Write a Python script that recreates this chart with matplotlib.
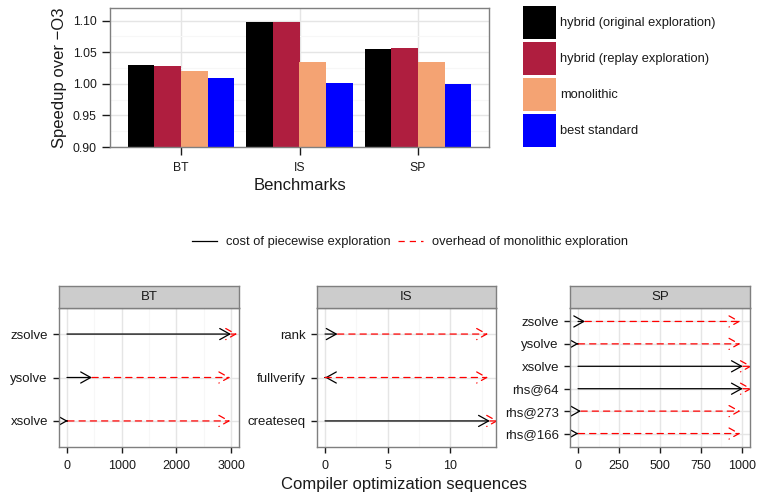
import matplotlib
matplotlib.use("Agg")
import matplotlib.pyplot as plt
from matplotlib.patches import Patch, FancyArrowPatch
from matplotlib.lines import Line2D
import numpy as np

plt.rcParams['font.family'] = ['Liberation Sans', 'DejaVu Sans']

# top chart data
benchmarks = ["BT", "IS", "SP"]
series_names = ["hybrid (original exploration)", "hybrid (replay exploration)",
                "monolithic", "best standard"]
series_colors = ["#000000", "#AF1E3F", "#F4A373", "#0000FF"]
speedup = {
    "hybrid (original exploration)": [1.030, 1.098, 1.055],
    "hybrid (replay exploration)": [1.028, 1.098, 1.057],
    "monolithic": [1.020, 1.035, 1.035],
    "best standard": [1.009, 1.001, 1.000],
}

# bottom facets: functions listed bottom -> top
bt_funcs = ["xsolve", "ysolve", "zsolve"]
bt_piecewise = [15, 457, 3000]
bt_monolithic = [2985, 2985, 3110]

is_funcs = ["createseq", "fullverify", "rank"]
is_piecewise = [13.15, 0, 1]
is_monolithic = [13.8, 13, 13]

sp_funcs = ["rhs@166", "rhs@273", "rhs@64", "xsolve", "ysolve", "zsolve"]
sp_piecewise = [2, 18, 1005, 1005, 2, 43]
sp_monolithic = [990, 990, 1060, 1060, 990, 990]

W, H = 758, 492
fig = plt.figure(figsize=(W / 100, H / 100), dpi=100)

TXT = "#1a1a1a"
BORDER = "#7F7F7F"
GMAJ = "#E5E5E5"
GMIN = "#F7F7F7"


def px_axes(x0, y0, x1, y1):
    return fig.add_axes([x0 / W, 1 - y1 / H, (x1 - x0) / W, (y1 - y0) / H])


def style_panel(ax):
    for s in ax.spines.values():
        s.set_color(BORDER)
        s.set_linewidth(1.0)
    ax.set_axisbelow(True)
    ax.tick_params(which='major', colors=TXT, labelcolor=TXT, width=1.0)
    ax.tick_params(which='minor', length=0)


# ---- top bar chart ----
ax = px_axes(110, 8, 489, 147)
style_panel(ax)
x = np.arange(1, len(benchmarks) + 1)
bw = 0.9 / len(series_names)
for i, name in enumerate(series_names):
    vals = np.array(speedup[name])
    ax.bar(x + (i - 1.5) * bw, vals - 0.9, bottom=0.9, width=bw,
           color=series_colors[i], edgecolor='none', label=name)
ax.set_xlim(0.4, 3.6)
ax.set_ylim(0.9, 1.12)
ax.set_xticks(x)
ax.set_xticklabels(benchmarks, fontsize=8.8)
ax.set_yticks([0.90, 0.95, 1.00, 1.05, 1.10])
ax.set_yticklabels(["0.90", "0.95", "1.00", "1.05", "1.10"], fontsize=8.8)
ax.set_yticks([0.925, 0.975, 1.025, 1.075], minor=True)
ax.tick_params(which='major', length=6)
ax.tick_params(axis='x', which='major', pad=5)
ax.grid(True, which='major', color=GMAJ, lw=1.0)
ax.grid(True, which='minor', axis='y', color=GMIN, lw=0.8)
ax.set_ylabel("Speedup over \u2212O3", fontsize=12, color=TXT)
ax.yaxis.set_label_coords(-0.113, 0.5)
fig.text(300 / W, 1 - 185 / H, "Benchmarks", fontsize=12, color=TXT,
         ha='center', va='center')

handles = [Patch(facecolor=c, edgecolor='none') for c in series_colors]
fig.legend(handles, series_names, loc='upper left',
           bbox_to_anchor=(523 / W, 1 - 6 / H), bbox_transform=fig.transFigure,
           frameon=False, fontsize=9.3, handlelength=2.55, handleheight=3.56,
           labelspacing=0.22, handletextpad=0.3, borderpad=0, borderaxespad=0,
           labelcolor=TXT)

# ---- bottom legend ----
lh = [Line2D([], [], color='black', lw=0.9),
      Line2D([], [], color='red', lw=0.9, linestyle=(0, (5, 4)))]
fig.legend(lh, ["cost of piecewise exploration", "overhead of monolithic exploration"],
           loc='center', bbox_to_anchor=(410 / W, 1 - 242 / H),
           bbox_transform=fig.transFigure, ncol=2, frameon=False, fontsize=9.3,
           handlelength=1.9, handletextpad=0.7, columnspacing=0.6,
           borderpad=0, labelcolor=TXT)


def arrow(ax, x0, x1, y, color, ls):
    if x0 == x1:
        x0 = x1 + 1e-6 * (ax.get_xlim()[1] - ax.get_xlim()[0])
    p = FancyArrowPatch((x0, y), (x1, y),
                        arrowstyle="->,head_length=0.36,head_width=0.2",
                        mutation_scale=20, color=color, lw=0.9, linestyle=ls,
                        shrinkA=0, shrinkB=0)
    ax.add_patch(p)


def facet(x0, x1, title, funcs, piece, mono, xlim, ticks, minor):
    a = px_axes(x0, 308, x1, 447)
    style_panel(a)
    a.set_xlim(*xlim)
    n = len(funcs)
    a.set_ylim(0.4, n + 0.6)
    ys = np.arange(1, n + 1)
    a.set_yticks(ys)
    a.set_yticklabels(funcs, fontsize=9.5)
    a.set_xticks(ticks)
    a.set_xticklabels([str(t) for t in ticks], fontsize=9)
    a.set_xticks(minor, minor=True)
    a.tick_params(which='major', length=4.5)
    a.tick_params(axis='x', which='major', pad=5)
    a.grid(True, which='major', color=GMAJ, lw=1.0)
    a.grid(True, which='minor', axis='x', color=GMIN, lw=0.8)
    for yv, p, m in zip(ys, piece, mono):
        arrow(a, 0, p, yv, 'black', '-')
        arrow(a, p, m, yv, 'red', (0, (5, 4)))
    s = px_axes(x0, 286, x1, 308)
    s.set_facecolor('#CCCCCC')
    s.set_xticks([])
    s.set_yticks([])
    for sp in s.spines.values():
        sp.set_color(BORDER)
        sp.set_linewidth(1.0)
    s.text(0.5, 0.5, title, transform=s.transAxes, ha='center', va='center',
           fontsize=9.5, color=TXT)
    return a


facet(59, 239, "BT", bt_funcs, bt_piecewise, bt_monolithic,
      (-146, 3146), [0, 1000, 2000, 3000], [500, 1500, 2500])
facet(317, 496, "IS", is_funcs, is_piecewise, is_monolithic,
      (-0.64, 13.64), [0, 5, 10], [2.5, 7.5, 12.5])
facet(570, 750, "SP", sp_funcs, sp_piecewise, sp_monolithic,
      (-49, 1049), [0, 250, 500, 750, 1000], [125, 375, 625, 875])

fig.text(404 / W, 1 - 484 / H, "Compiler optimization sequences", fontsize=12,
         color=TXT, ha='center', va='center')

fig.savefig("out.png", dpi=100)
